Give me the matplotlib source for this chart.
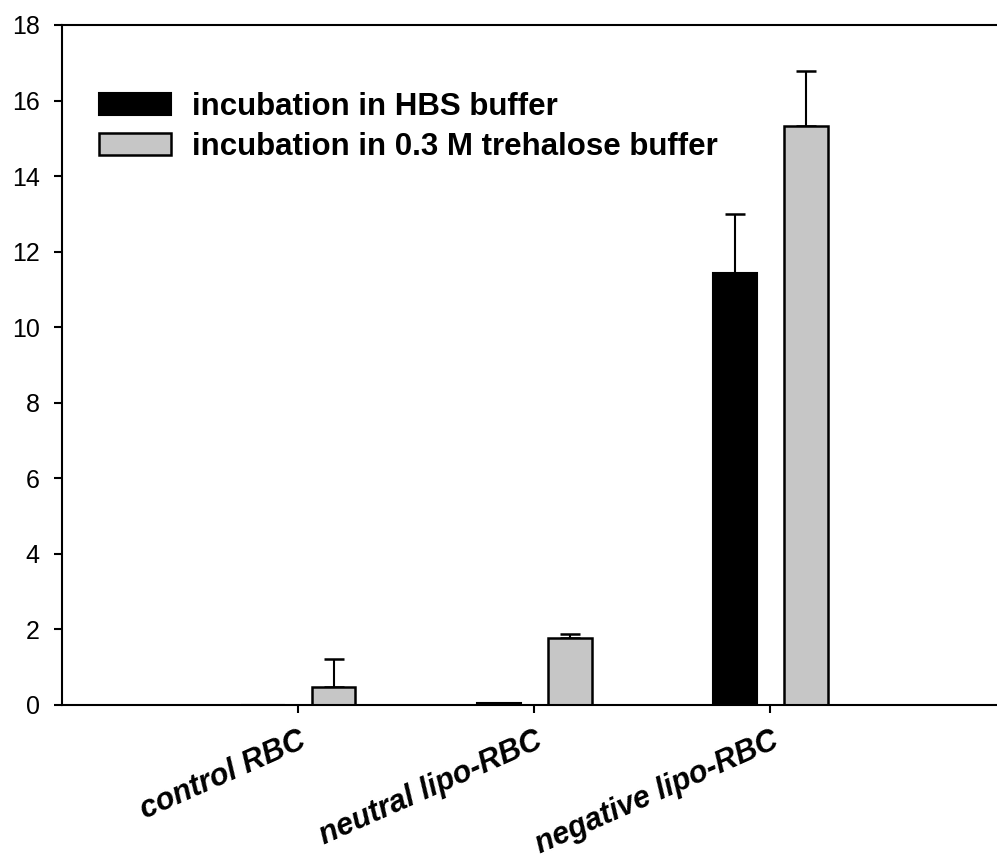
import matplotlib
matplotlib.use("Agg")
import matplotlib.pyplot as plt
import numpy as np

categories = ["control RBC", "neutral lipo-RBC", "negative lipo-RBC"]
series_names = ["incubation in HBS buffer", "incubation in 0.3 M trehalose buffer"]
hbs_values = [0.0, 0.06, 11.43]
hbs_errors = [0.0, 0.0, 1.58]
tre_values = [0.48, 1.78, 15.33]
tre_errors = [0.73, 0.10, 1.46]
y_ticks = [0, 2, 4, 6, 8, 10, 12, 14, 16, 18]

plt.rcParams['font.family'] = ['Liberation Sans', 'DejaVu Sans']

fig = plt.figure(figsize=(9.97, 8.65), dpi=100)
ax = fig.add_axes([62/997, 160/865, 1 - 62/997, 680/865])

x = np.arange(len(categories))
w = 0.186
off = 0.15
ax.bar(x - off, hbs_values, w, color='black', edgecolor='black', linewidth=1.5,
       label=series_names[0], zorder=2)
ax.bar(x + off, tre_values, w, color='#c6c6c6', edgecolor='black', linewidth=1.8,
       label=series_names[1], zorder=2)
# upward-only error bars
ax.errorbar(x - off, hbs_values, yerr=[np.zeros(3), hbs_errors], fmt='none',
            ecolor='black', elinewidth=1.5, capsize=7, capthick=1.8, zorder=1)
ax.errorbar(x + off, tre_values, yerr=[np.zeros(3), tre_errors], fmt='none',
            ecolor='black', elinewidth=1.5, capsize=7, capthick=1.8, zorder=1)

ax.set_xlim(-1.0, 2.96)
ax.set_ylim(0, 18)
ax.set_yticks(y_ticks)
ax.set_yticklabels([str(t) for t in y_ticks], fontsize=18)
ax.set_xticks(x)
ax.set_xticklabels(categories, rotation=24, ha='right', rotation_mode='anchor',
                   fontsize=22, fontweight='bold', fontstyle='italic')
ax.tick_params(axis='both', direction='out', length=6, width=1.5)
ax.tick_params(axis='y', pad=10)
ax.tick_params(axis='x', pad=9)

for s in ['left', 'bottom', 'top']:
    ax.spines[s].set_linewidth(1.5)
ax.spines['right'].set_visible(False)

leg = ax.legend(loc='upper left', bbox_to_anchor=(0.04, 0.902), frameon=False,
                prop={'weight': 'bold', 'size': 22.5}, handlelength=2.3,
                handleheight=0.72, handletextpad=0.67, labelspacing=0.33,
                borderpad=0, borderaxespad=0)

fig.savefig("out.png", dpi=100)
